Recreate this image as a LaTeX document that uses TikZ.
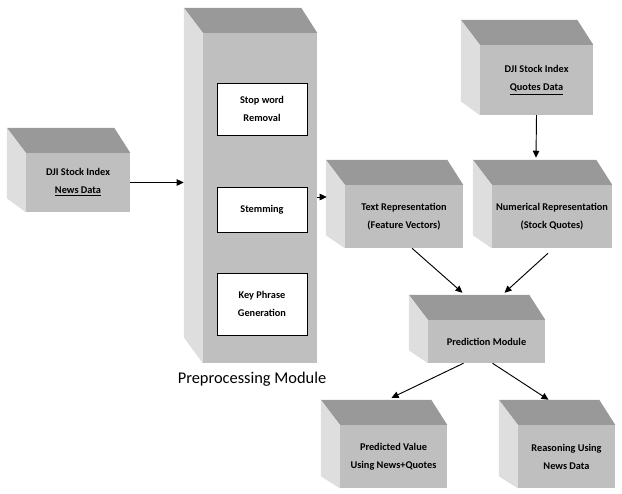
\documentclass[tikz,border=0pt]{standalone}
\usepackage{fontspec}
\setmainfont{Carlito}
\usetikzlibrary{arrows.meta,calc}

\begin{document}
\begin{tikzpicture}[x=0.03cm,y=-0.03cm]
\def\u{0.03cm}
\tikzstyle{front}=[fill=black!25,minimum height=63*\u,inner sep=0pt,align=center,font=\fontsize{8.8}{15.5}\selectfont\bfseries]
\tikzstyle{inner}=[draw=black,fill=white,line width=0.8pt,minimum width=90*\u,inner sep=0pt,align=center,font=\fontsize{8.8}{15.5}\selectfont\bfseries]
\tikzstyle{topface}=[fill=black!40]
\tikzstyle{sideface}=[fill=black!13]
\tikzstyle{edge}=[draw,line width=0.8pt,-{Triangle[length=6pt,width=5.5pt]}]

\useasboundingbox (0,0) rectangle (622,493);

% front faces
\node[front,minimum width=104*\u,minimum height=59*\u] (news) at (78,182.5) {DJI Stock Index\\\underline{News Data}};
\node[front,minimum width=114*\u,minimum height=330*\u] (prep) at (260,198) {};
\node[front,minimum width=113*\u,minimum height=70*\u] (quotes) at (536.5,80) {DJI Stock Index\\\underline{Quotes Data}};
\node[front,minimum width=118*\u] (textrep) at (404,216.5) {Text Representation\\(Feature Vectors)};
\node[front,minimum width=120*\u] (numrep) at (552,216.5) {Numerical Representation\\(Stock Quotes)};
\node[front,minimum width=117*\u,minimum height=43*\u] (pred) at (486.5,341.5) {Prediction Module};
\node[front,minimum width=107*\u] (value) at (393.5,456.5) {Predicted Value\\Using News+Quotes};
\node[front,minimum width=97*\u] (reason) at (566.5,456.5) {Reasoning Using\\News Data};

% top and side faces
\foreach \n/\d in {news/14,prep/26,quotes/14,textrep/13,numrep/13,pred/13,value/12,reason/12} {
  \fill[topface] (\n.north west) -- ++(-19,-25) -- ($(\n.north east)+(-16,-25)$) -- (\n.north east) -- cycle;
  \fill[sideface] (\n.north west) -- ++(-19,-25) -- ($(\n.south west)+(-19,-\d)$) -- (\n.south west) -- cycle;
}

% preprocessing steps
\node[inner,minimum height=52*\u] (stop) at (262,109) {Stop word\\Removal};
\node[inner,minimum height=45*\u] (stem) at (262,209.5) {Stemming};
\node[inner,minimum height=62*\u] (key) at (262,304) {Key Phrase\\Generation};
\node[font=\fontsize{14}{16}\selectfont] (preplabel) at (252,379) {Preprocessing Module};

% connectors
\coordinate (prepin) at ($(prep.west |- news.east)+(-19,0)$);
\coordinate (textin) at ($(textrep.west |- 0,197)+(-18,0)$);
\coordinate (numin) at ($(numrep.north)+(-16,-27)$);
\path (news.east) edge[edge] (prepin);
\path (prep.east |- textin) edge[edge] (textin);
\path (quotes.south) edge[edge] (numin);
\path ($(textrep.south)+(8,0)$) edge[edge] ($(pred.north)+(-24,-27)$);
\path ($(numrep.south)+(-4,5)$) edge[edge] ($(pred.north)+(18,-27)$);
\path ($(pred.south)+(-23,0)$) edge[edge] ($(value.north)+(-2,-27)$);
\path ($(pred.south)+(6,0)$) edge[edge] ($(reason.north)+(-18,-25)$);
\end{tikzpicture}
\end{document}
